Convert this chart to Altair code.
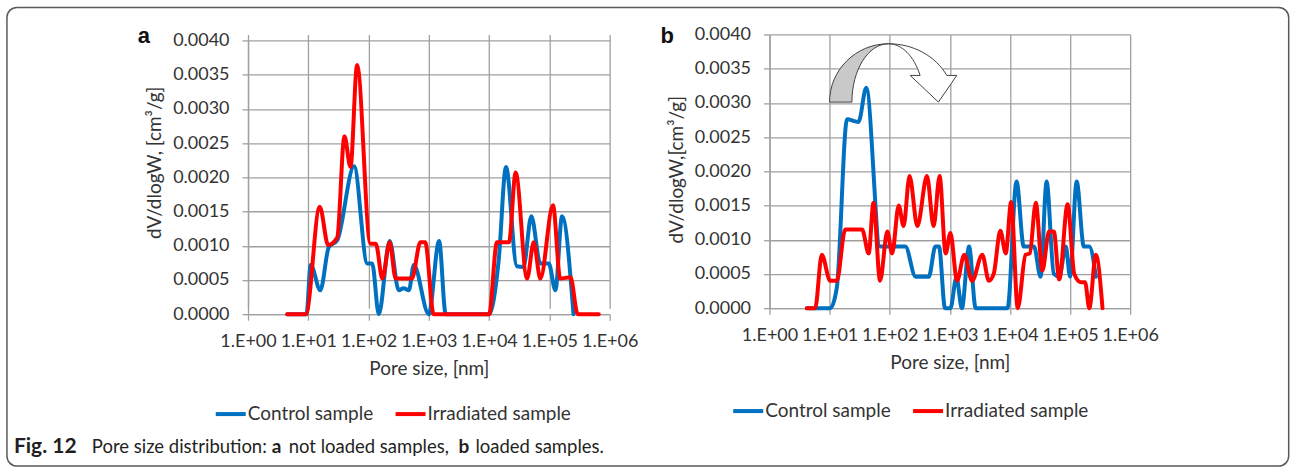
import json
import altair as alt
import pandas as pd

# ---------------- data ----------------
SERIES = ["Control sample", "Irradiated sample"]
SERIES_COLORS = ["#0070C0", "#FF0000"]

X_TICKS = [1, 10, 100, 1000, 10000, 100000, 1000000]
X_TICK_LABELS = ["1.E+00", "1.E+01", "1.E+02", "1.E+03", "1.E+04", "1.E+05", "1.E+06"]
Y_TICKS = [0, 0.0005, 0.001, 0.0015, 0.002, 0.0025, 0.003, 0.0035, 0.004]

X_TITLE = "Pore size, [nm]"
Y_TITLE_A = "dV/dlogW, [cm³/g]"
Y_TITLE_B = "dV/dlogW,[cm³/g]"
PANEL_LETTERS = ["a", "b"]

CAPTION_PARTS = ["Fig. 12", "Pore size distribution:", "a", "not loaded samples,", "b", "loaded samples."]
CAPTION_BOLD = [True, False, True, False, True, False]

# panel a (not loaded samples)
A_CONTROL_X = [4.47, 9.33, 10.96, 15.85, 21.88, 30.2, 57.5, 95.5, 114.8, 147.9,
               223.9, 316.2, 380.2, 467.7, 562.3, 1000, 1479, 1905, 10000, 14454,
               19055, 28840, 37154, 50119, 70795, 97724, 125893, 162181, 251189]
A_CONTROL_Y = [0, 0, 0.00072, 0.00035, 0.00098, 0.00108, 0.00216, 0.00074, 0.00074, 0,
               0.00107, 0.00035, 0.00038, 0.00035, 0.00072, 0, 0.00107, 0, 0, 0.0008,
               0.00215, 0.0007, 0.00069, 0.00143, 0.00074, 0.00074, 0.00035, 0.00143, 0]
A_IRR_X = [4.47, 9.12, 15.49, 21.38, 30.2, 39.81, 50.12, 64.57, 107.2, 131.8,
           169.8, 223.9, 281.8, 524.8, 724.4, 871, 1202, 10000, 13490, 21380,
           27540, 42660, 54950, 70795, 114815, 151356, 223872, 295121, 660693]
A_IRR_Y = [0, 0, 0.00157, 0.00101, 0.00112, 0.0026, 0.00215, 0.00364, 0.00103, 0.00103,
           0.00052, 0.00105, 0.00052, 0.00052, 0.00105, 0.00105, 0, 0, 0.00105, 0.00105,
           0.00207, 0.00052, 0.00105, 0.00052, 0.00159, 0.00052, 0.00054, 0, 0]

# panel b (loaded samples)
B_CONTROL_X = [4.17, 10.23, 13.18, 19.5, 30.2, 40.74, 69.18, 182, 269.2, 446.7,
               575.4, 660.7, 831.8, 1023, 1288, 1585, 2089, 2692, 9120, 12882,
               16982, 25119, 32359, 40738, 53703, 66069, 85114, 100000, 128825, 169824,
               208930, 269153]
B_CONTROL_Y = [0, 0, 0.0003, 0.00276, 0.00272, 0.00322, 0.0009, 0.0009, 0.00046, 0.00046,
               0.0009, 0.0009, 0, 0, 0.00045, 0, 0.0009, 0, 0, 0.00185,
               0.0009, 0.0009, 0.00046, 0.00185, 0.0005, 0.00046, 0.0009, 0.00046, 0.00185, 0.0009,
               0.0009, 0.00046]
B_IRR_X = [4.17, 5.75, 7.41, 10.23, 13.18, 18.2, 34.67, 44.67, 53.7, 69.18,
           91.2, 109.6, 141.3, 169.8, 213.8, 288.4, 416.9, 537, 676.1, 851.1,
           1023, 1318, 1738, 2344, 3467, 4467, 5370, 6918, 8511, 10471,
           13490, 18197, 21380, 26915, 34674, 44668, 53703, 66069, 91201, 117490,
           151356, 177828, 208930, 269153, 346737]
B_IRR_Y = [0, 0, 0.00078, 0.0004, 0.0004, 0.00115, 0.00115, 0.0008, 0.00154, 0.0004,
           0.00112, 0.0008, 0.0015, 0.0012, 0.00193, 0.0012, 0.00193, 0.0012, 0.00193, 0.0008,
           0.0011, 0.0004, 0.00078, 0.0004, 0.00078, 0.0004, 0.0005, 0.00113, 0.0008, 0.00155,
           0, 0.00078, 0.0008, 0.00154, 0.00055, 0.00112, 0.00112, 0.00042, 0.00152, 0.0005,
           0.00038, 0.00038, 0, 0.00078, 0]

# curved-arrow annotation (panel b), anchor in data units
ARROW_X = [95.3]
ARROW_Y = [0.003445]
ARROW_GRAY = ("M -0.983 0.495 A 0.983 0.973 0 0 1 0 -0.478 "
              "A 0.61 0.973 0 0 0 -0.61 0.495 Z")
ARROW_WHITE = ("M 0 -0.478 A 1.09 0.973 0 0 1 0.973 0.05 L 1.14 0.05 L 0.833 0.495 "
               "L 0.362 0.05 L 0.528 0.05 A 0.594 0.973 0 0 0 0 -0.478 Z")

# ---------------- styling ----------------
FONT = "Lato"
TEXT_COLOR = "#333333"
GRID_COLOR = "#a0a0a0"
LABEL_EXPR = json.dumps(X_TICK_LABELS) + "[round(log(datum.value) / LN10)]"

A_LEFT = 247.3   # page x of panel a plot
B_LEFT = 769.3   # page x of panel b plot
TOP = 34.0       # page y of both panel cells


def series_df(cx, cy, ix, iy):
    rows = [{"size": x, "value": y, "Series": SERIES[0]} for x, y in zip(cx, cy)]
    rows += [{"size": x, "value": y, "Series": SERIES[1]} for x, y in zip(ix, iy)]
    return pd.DataFrame(rows)


def x_enc():
    return alt.X(
        "size:Q",
        scale=alt.Scale(type="log", domain=[1, 1e6], nice=False),
        axis=alt.Axis(values=X_TICKS, labelExpr=LABEL_EXPR, title=X_TITLE, grid=True,
                      gridColor=GRID_COLOR, gridWidth=1.3, domainColor=GRID_COLOR, domainWidth=1.3,
                      tickColor=GRID_COLOR, tickWidth=1.3, tickSize=6,
                      labelFont=FONT, labelFontSize=18, labelColor=TEXT_COLOR, labelPadding=12,
                      labelFlush=False, labelOverlap=False,
                      titleFont=FONT, titleFontSize=19, titleFontWeight="normal",
                      titleColor=TEXT_COLOR, titleY=54, titleBaseline="middle"),
    )


def y_enc(rng, title, tx, ty):
    return alt.Y(
        "value:Q",
        scale=alt.Scale(domain=[0, 0.004], range=rng, nice=False, zero=False),
        axis=alt.Axis(values=Y_TICKS, format=".4f", title=title, grid=True,
                      gridColor=GRID_COLOR, gridWidth=1.3, domainColor=GRID_COLOR, domainWidth=1.3,
                      tickColor=GRID_COLOR, tickWidth=1.3, tickSize=6,
                      labelFont=FONT, labelFontSize=18, labelColor=TEXT_COLOR, labelPadding=13,
                      labelFlush=False, labelOverlap=False,
                      titleFont=FONT, titleFontSize=19, titleFontWeight="normal",
                      titleColor=TEXT_COLOR, titleX=tx, titleY=ty, titleBaseline="middle",
                      titleAlign="center"),
    )


def color_enc(lx, ly):
    return alt.Color(
        "Series:N",
        scale=alt.Scale(domain=SERIES, range=SERIES_COLORS),
        legend=alt.Legend(orient="none", legendX=lx, legendY=ly, direction="horizontal",
                          title=None, symbolType="stroke", symbolSize=900, symbolStrokeWidth=4,
                          labelFont=FONT, labelFontSize=19, labelColor=TEXT_COLOR,
                          labelOffset=0, columnPadding=14, padding=0),
    )


def lines(df, rng, title, tx, ty, lx, ly):
    return alt.Chart(df).mark_line(
        strokeWidth=4, interpolate="monotone", strokeJoin="round", strokeCap="round"
    ).encode(x=x_enc(), y=y_enc(rng, title, tx, ty), color=color_enc(lx, ly))


def text_at(txt, px, py, size, bold=False, font=FONT, color=TEXT_COLOR, align="left"):
    return alt.Chart(alt.Data(values=[{}])).mark_text(
        text=txt, font=font, fontSize=size, fontWeight="bold" if bold else "normal",
        color=color, align=align, baseline="alphabetic"
    ).encode(x=alt.value(px), y=alt.value(py))


# ---------------- panel a ----------------
df_a = series_df(A_CONTROL_X, A_CONTROL_Y, A_IRR_X, A_IRR_Y)
Y_RANGE_A = [280, 6]
TITLE_A_POS = (154 - A_LEFT, 162 - TOP)
lines_a = lines(df_a, Y_RANGE_A, Y_TITLE_A, TITLE_A_POS[0], TITLE_A_POS[1],
                213 - A_LEFT, 413 - TOP - 16)

frame = alt.Chart(alt.Data(values=[{}])).mark_rect(
    fillOpacity=0, stroke="#5a5a5a", strokeWidth=1.5, cornerRadius=10
).encode(x=alt.value(6 - A_LEFT), x2=alt.value(1289 - A_LEFT),
         y=alt.value(7 - TOP), y2=alt.value(466 - TOP))

letter_a = text_at(PANEL_LETTERS[0], 143 - A_LEFT, 43 - TOP, 22, bold=True,
                   font="Liberation Sans", color="#111111", align="center")

CAPTION_X = [13, 91, 271, 288, 458, 475]
CAPTION_SIZE = [21, 18.5, 19, 18.5, 19, 18.5]
caption_layers = [
    text_at(t, cx - A_LEFT, 453 - TOP, s, bold=b, color="#231f20")
    for t, b, cx, s in zip(CAPTION_PARTS, CAPTION_BOLD, CAPTION_X, CAPTION_SIZE)
]

panel_a = alt.layer(frame, lines_a, letter_a, *caption_layers).properties(width=362, height=280)

# ---------------- panel b ----------------
df_b = series_df(B_CONTROL_X, B_CONTROL_Y, B_IRR_X, B_IRR_Y)
Y_RANGE_B = [274, 0]
TITLE_B_POS = (676 - B_LEFT, 169 - TOP)
lines_b = lines(df_b, Y_RANGE_B, Y_TITLE_B, TITLE_B_POS[0], TITLE_B_POS[1],
                731 - B_LEFT, 410 - TOP - 16)

arrow_df = pd.DataFrame({"size": ARROW_X, "value": ARROW_Y})


def arrow_part(path, fill):
    return alt.Chart(arrow_df).mark_point(
        shape=path, size=14400, filled=True, fill=fill, stroke="#404040",
        strokeWidth=1, opacity=1
    ).encode(x=x_enc(), y=y_enc(Y_RANGE_B, Y_TITLE_B, TITLE_B_POS[0], TITLE_B_POS[1]))


arrow_gray = arrow_part(ARROW_GRAY, "#c9c9c9")
arrow_white = arrow_part(ARROW_WHITE, "#ffffff")

letter_b = text_at(PANEL_LETTERS[1], 667 - B_LEFT, 43 - TOP, 22, bold=True,
                   font="Liberation Sans", color="#111111", align="center")

panel_b = alt.layer(lines_b, arrow_gray, arrow_white, letter_b).properties(width=361, height=274)

chart = (
    alt.hconcat(panel_a, panel_b, spacing=160, bounds="flush")
    .resolve_scale(color="independent")
    .resolve_legend(color="independent")
    .properties(padding={"left": 5.25, "top": 6.25, "right": 0, "bottom": 0})
    .configure_view(strokeWidth=0)
)

chart.save("out.html", embed_options={"renderer": "svg", "actions": False})
